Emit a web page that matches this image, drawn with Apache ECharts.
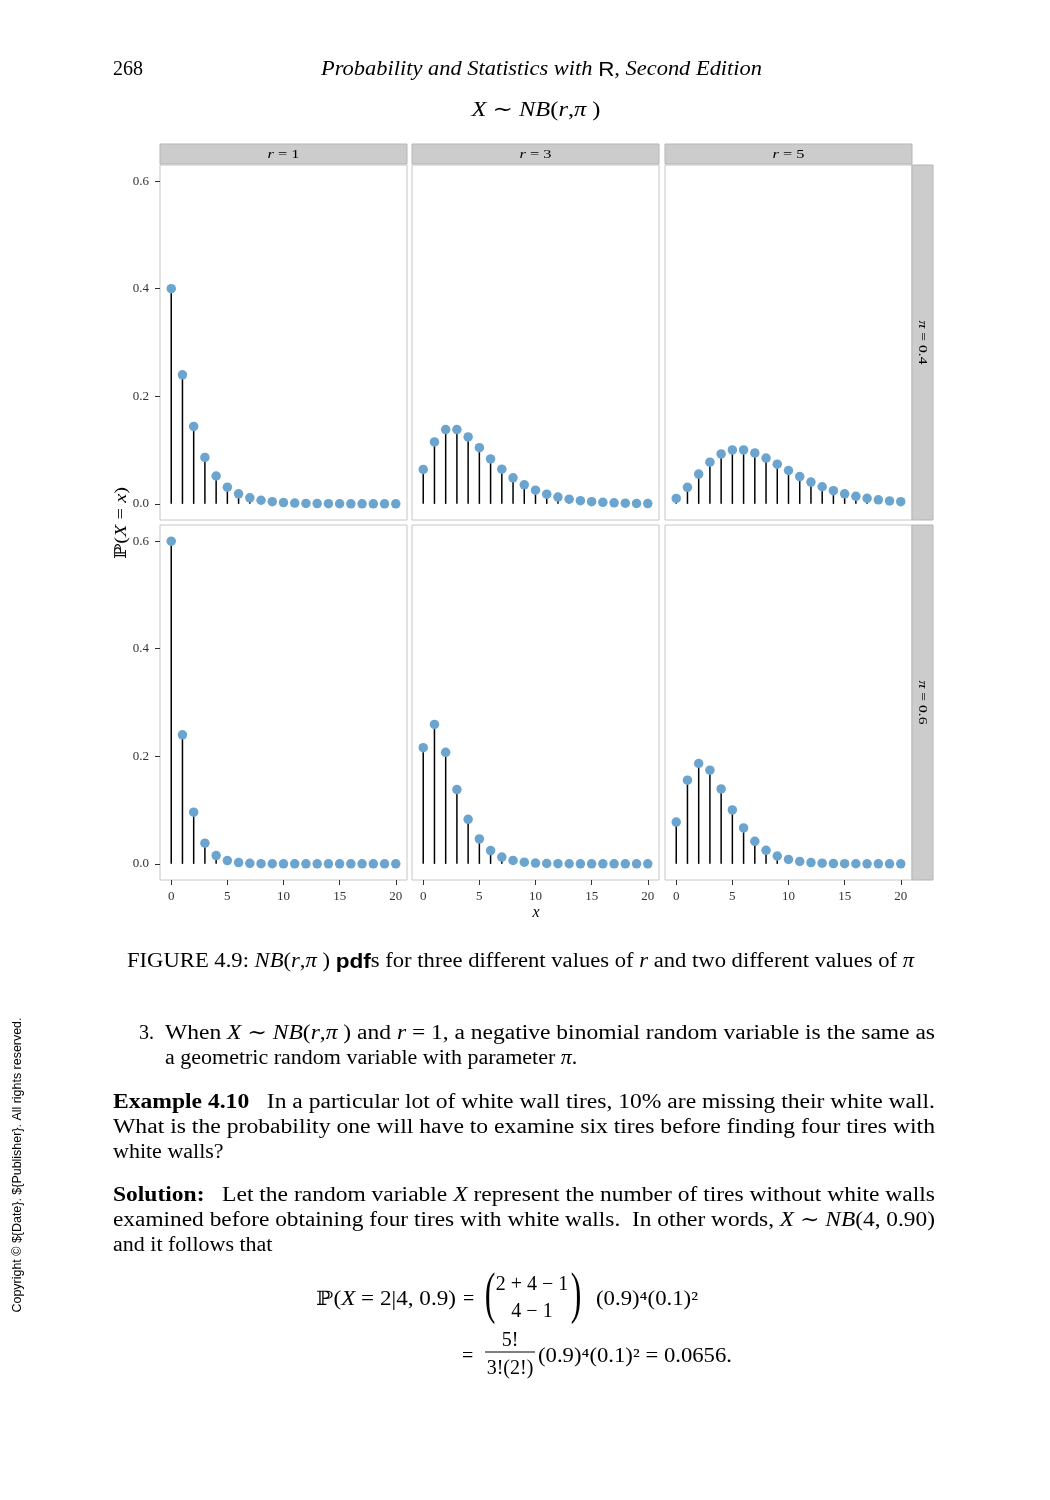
<!DOCTYPE html>
<html>
<head>
<meta charset="utf-8">
<script src="https://cdn.jsdelivr.net/npm/echarts@6.0.0/dist/echarts.min.js"></script>
<style>
html,body{margin:0;padding:0;background:#fff;}
#page{width:1050px;height:1500px;}
</style>
</head>
<body>
<div id="page"></div>
<script>
// x = number of failures before the r-th success
var xValues = [0,1,2,3,4,5,6,7,8,9,10,11,12,13,14,15,16,17,18,19,20];
var rLabels = ['1','3','5'];
var piLabels = ['0.4','0.6'];

// P(X = x) (pi = 0.4 top row, pi = 0.6 bottom row)
var pmfR1Pi04 = [0.4,0.24,0.144,0.0864,0.0518,0.0311,0.0187,0.0112,0.0067,0.0040,0.0024,0.0015,0.0009,0.0005,0.0003,0.0002,0.0001,0.0001,0,0,0];
var pmfR3Pi04 = [0.064,0.1152,0.1382,0.1382,0.1244,0.1045,0.0836,0.0645,0.0484,0.0355,0.0255,0.0181,0.0127,0.0088,0.0060,0.0041,0.0028,0.0019,0.0012,0.0008,0.0005];
var pmfR5Pi04 = [0.0102,0.0307,0.0553,0.0774,0.0929,0.1003,0.1003,0.0946,0.0851,0.0738,0.0620,0.0507,0.0406,0.0318,0.0246,0.0187,0.0140,0.0104,0.0076,0.0055,0.0040];
var pmfR1Pi06 = [0.6,0.24,0.096,0.0384,0.0154,0.0061,0.0025,0.0010,0.0004,0.0002,0.0001,0,0,0,0,0,0,0,0,0,0];
var pmfR3Pi06 = [0.216,0.2592,0.2074,0.1382,0.0829,0.0464,0.0248,0.0127,0.0064,0.0031,0.0015,0.0007,0.0003,0.0002,0.0001,0,0,0,0,0,0];
var pmfR5Pi06 = [0.0778,0.1555,0.1866,0.1742,0.1393,0.1003,0.0669,0.0420,0.0252,0.0146,0.0082,0.0045,0.0024,0.0012,0.0006,0.0003,0.0002,0.0001,0,0,0];

var xTicks = [0,5,10,15,20];
var yTicks = [0,0.2,0.4,0.6];

var panelData = [
    [pmfR1Pi04, pmfR3Pi04, pmfR5Pi04],
    [pmfR1Pi06, pmfR3Pi06, pmfR5Pi06]
];

var SERIF = "'Liberation Serif', 'DejaVu Serif', serif";
var SANS = "'Liberation Sans', 'DejaVu Sans', sans-serif";

var colLeft = [160, 412, 665];
var rowTop = [165, 525];
var panelW = 247, panelH = 355;

var chart = echarts.init(document.getElementById('page'), null, {width:1050, height:1500});

var grids = [], xAxes = [], yAxes = [], series = [];
var tickText = {fontFamily:SERIF, fontSize:13, color:'#333'};

for (var row = 0; row < 2; row++) {
    for (var col = 0; col < 3; col++) {
        var idx = row * 3 + col;
        var vals = panelData[row][col];
        var pts = xValues.map(function (x, k) { return [x, vals[k]]; });
        grids.push({
            left: colLeft[col], top: rowTop[row], width: panelW, height: panelH,
            show: true, backgroundColor: '#fff', borderColor: '#c6c6c6', borderWidth: 1
        });
        xAxes.push({
            gridIndex: idx, type: 'value', min: -1, max: 21,
            axisLine: {show: false, onZero: false},
            splitLine: {show: false},
            axisTick: {show: row == 1, customValues: xTicks, length: 5, lineStyle: {color: '#333'}},
            axisLabel: Object.assign({show: row == 1, customValues: xTicks, margin: 10}, tickText)
        });
        yAxes.push({
            gridIndex: idx, type: 'value', min: -0.03, max: 0.63,
            axisLine: {show: false, onZero: false},
            splitLine: {show: false},
            axisTick: {show: col == 0, customValues: yTicks, length: 5, lineStyle: {color: '#333'}},
            axisLabel: Object.assign({show: col == 0, customValues: yTicks, margin: 11,
                formatter: function (v) { return v.toFixed(1); }}, tickText)
        });
        series.push({
            type: 'bar', xAxisIndex: idx, yAxisIndex: idx,
            barWidth: 1.5, itemStyle: {color: '#000'},
            data: pts
        });
        series.push({
            type: 'scatter', xAxisIndex: idx, yAxisIndex: idx, z: 3,
            symbolSize: 9.5, itemStyle: {color: '#6ba5cf', opacity: 1},
            data: pts
        });
    }
}

// ---- page text ----
var RICH = {
    i: {fontFamily: SERIF, fontStyle: 'italic'},
    b: {fontFamily: SERIF, fontWeight: 'bold'},
    s: {fontFamily: SANS, fontWeight: 'bold'},
    sa: {fontFamily: SANS}
};
var measureCtx = document.createElement('canvas').getContext('2d');
function richWidth(str, size, baseStyle) {
    var re = /\{(\w+)\|([^}]*)\}/g, w = 0, last = 0, m;
    function seg(t, st) {
        measureCtx.font = (st.fontStyle || '') + ' ' + (st.fontWeight || '') + ' ' + size + 'px ' + (st.fontFamily || SERIF);
        w += measureCtx.measureText(t).width;
    }
    while ((m = re.exec(str))) {
        seg(str.slice(last, m.index), baseStyle || {});
        seg(m[2], RICH[m[1]]);
        last = re.lastIndex;
    }
    seg(str.slice(last), baseStyle || {});
    return w;
}
function richFor(size) {
    var r = {};
    for (var k in RICH) r[k] = Object.assign({fontSize: size}, RICH[k]);
    return r;
}
function txt(str, x, y, size, opt) {
    opt = opt || {};
    var base = {fontFamily: opt.family || SERIF, fontStyle: opt.italic ? 'italic' : 'normal'};
    var el = {
        type: 'text', x: x, y: y + (opt.rotation ? 0 : (opt.dy != null ? opt.dy : 2)), rotation: opt.rotation || 0,
        style: {
            text: str, fontFamily: base.fontFamily, fontStyle: base.fontStyle,
            fontSize: size, fill: opt.color || '#000',
            textAlign: opt.align || 'left', textVerticalAlign: 'middle',
            rich: richFor(size)
        }
    };
    if (opt.width) el.scaleX = opt.width / richWidth(str, size, base);
    if (opt.scaleX) el.scaleX = opt.scaleX;
    return el;
}

var graphics = [];
// strips
for (var c = 0; c < 3; c++) {
    graphics.push({type: 'rect', shape: {x: colLeft[c], y: 144, width: panelW, height: 20},
        style: {fill: '#cccccc', stroke: '#b5b5b5', lineWidth: 1}});
    graphics.push(txt('{i|r} = ' + rLabels[c], colLeft[c] + panelW / 2, 154.5, 12.5, {align: 'center', width: 32, dy: 0}));
}
for (var r = 0; r < 2; r++) {
    graphics.push({type: 'rect', shape: {x: 912, y: rowTop[r], width: 21, height: panelH},
        style: {fill: '#cccccc', stroke: '#b5b5b5', lineWidth: 1}});
    graphics.push(txt('{i|π} = ' + piLabels[r], 922.5, rowTop[r] + panelH / 2, 12.5,
        {align: 'center', rotation: -Math.PI / 2, width: 44}));
}
// axis titles
graphics.push(txt('ℙ({i|X} = {i|x})', 122, 523, 16, {align: 'center', rotation: Math.PI / 2, width: 72}));
graphics.push(txt('{i|x}', 536, 913, 16, {align: 'center', dy: 0}));
// chart title
graphics.push(txt('{i|X} ∼ {i|NB}({i|r},{i|π} )', 536, 108, 21, {align: 'center', width: 129}));

// running head
graphics.push(txt('268', 113, 68, 20));
graphics.push(txt('Probability and Statistics with {sa|R}, Second Edition', 321, 68, 20,
    {italic: true, width: 441}));

// caption
graphics.push(txt('FIGURE 4.9: {i|NB}({i|r},{i|π} ) {s|pdf}s for three different values of {i|r} and two different values of {i|π}',
    127, 960, 20, {width: 787}));

// item 3
graphics.push(txt('3.', 139, 1032, 20));
graphics.push(txt('When {i|X} ∼ {i|NB}({i|r},{i|π} ) and {i|r} = 1, a negative binomial random variable is the same as',
    165, 1032, 20, {width: 770}));
graphics.push(txt('a geometric random variable with parameter {i|π}.', 165, 1057, 20, {scaleX: 1.1}));

// example
graphics.push(txt('{b|Example 4.10}   In a particular lot of white wall tires, 10% are missing their white wall.',
    113, 1101, 20, {width: 822}));
graphics.push(txt('What is the probability one will have to examine six tires before finding four tires with',
    113, 1126, 20, {width: 822}));
graphics.push(txt('white walls?', 113, 1151, 20, {scaleX: 1.1}));

// solution
graphics.push(txt('{b|Solution:}   Let the random variable {i|X} represent the number of tires without white walls',
    113, 1194, 20, {width: 822}));
graphics.push(txt('examined before obtaining four tires with white walls.  In other words, {i|X} ∼ {i|NB}(4, 0.90)',
    113, 1219, 20, {width: 822}));
graphics.push(txt('and it follows that', 113, 1244, 20, {scaleX: 1.1}));

// display formula
graphics.push(txt('ℙ({i|X} = 2|4, 0.9)', 316, 1298, 20, {width: 140}));
graphics.push(txt('=', 463, 1298, 20));
graphics.push(txt('(', 490, 1295, 58, {align: 'center', scaleX: 0.55}));
graphics.push(txt('2 + 4 − 1', 532, 1283, 20, {align: 'center'}));
graphics.push(txt('4 − 1', 532, 1310, 20, {align: 'center'}));
graphics.push(txt(')', 576, 1295, 58, {align: 'center', scaleX: 0.55}));
graphics.push(txt('(0.9)⁴(0.1)²', 596, 1298, 20, {width: 102}));
graphics.push(txt('=', 462, 1355, 20));
graphics.push(txt('5!', 510, 1339, 20, {align: 'center'}));
graphics.push({type: 'line', shape: {x1: 485, y1: 1352, x2: 535, y2: 1352}, style: {stroke: '#000', lineWidth: 1}});
graphics.push(txt('3!(2!)', 510, 1367, 20, {align: 'center'}));
graphics.push(txt('(0.9)⁴(0.1)² = 0.0656.', 538, 1355, 20, {width: 194}));

// side note
graphics.push(txt('Copyright © ${Date}. ${Publisher}. All rights reserved.', 17, 1165, 13,
    {family: SANS, align: 'center', rotation: Math.PI / 2, width: 295}));

var option = {
    backgroundColor: '#fff',
    animation: false,
    grid: grids,
    xAxis: xAxes,
    yAxis: yAxes,
    series: series,
    graphic: graphics
};
chart.setOption(option);
</script>
</body>
</html>
